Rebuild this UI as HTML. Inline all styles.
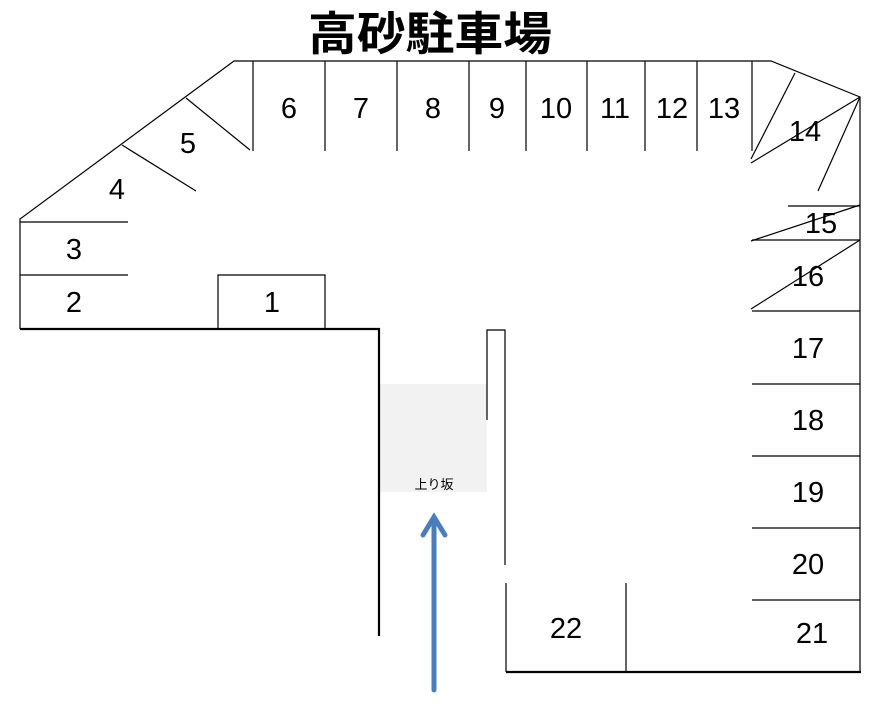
<!DOCTYPE html>
<html><head><meta charset="utf-8"><style>
body{margin:0;background:#fff;width:891px;height:705px;overflow:hidden}
svg text{font-family:"Liberation Sans","Noto Sans CJK JP",sans-serif}
</style></head><body>
<svg width="891" height="705" viewBox="0 0 891 705" xmlns="http://www.w3.org/2000/svg">
<text x="430" y="50" font-size="46" font-weight="bold" text-anchor="middle" font-family="'Noto Sans CJK JP',sans-serif" textLength="244" lengthAdjust="spacingAndGlyphs">高砂駐車場</text>
<rect x="379" y="384" width="108" height="108" fill="#f2f2f2"/>
<g stroke="#000" stroke-width="1.2" fill="none">
<polyline points="20,329 20,219 234,61 771,61 860,97 860,672"/>
<line x1="186" y1="98" x2="250" y2="150"/>
<line x1="122" y1="145" x2="196" y2="191"/>
<line x1="20" y1="222" x2="128" y2="222"/>
<line x1="20" y1="275" x2="128" y2="275"/>
<polyline points="218,329 218,275 325,275 325,329"/>
<line x1="253" y1="61" x2="253" y2="151"/>
<line x1="325" y1="61" x2="325" y2="151"/>
<line x1="397" y1="61" x2="397" y2="151"/>
<line x1="469" y1="61" x2="469" y2="151"/>
<line x1="526" y1="61" x2="526" y2="151"/>
<line x1="587" y1="61" x2="587" y2="151"/>
<line x1="645" y1="61" x2="645" y2="151"/>
<line x1="697" y1="61" x2="697" y2="151"/>
<line x1="752" y1="61" x2="752" y2="151"/>
<line x1="795" y1="73" x2="751" y2="159"/>
<line x1="860" y1="97" x2="751" y2="163"/>
<line x1="860" y1="97" x2="818" y2="191"/>
<line x1="788" y1="206" x2="860" y2="206"/>
<line x1="860" y1="205" x2="751" y2="241"/>
<line x1="752" y1="240" x2="860" y2="240"/>
<line x1="860" y1="240" x2="751" y2="309"/>
<line x1="752" y1="311" x2="860" y2="311"/>
<line x1="752" y1="384" x2="860" y2="384"/>
<line x1="752" y1="456" x2="860" y2="456"/>
<line x1="752" y1="528" x2="860" y2="528"/>
<line x1="752" y1="600" x2="860" y2="600"/>
<line x1="626" y1="583" x2="626" y2="672"/>
<polyline points="487,420 487,330 505,330 505,565"/>
<line x1="506" y1="583" x2="506" y2="672"/>
</g>
<g stroke="#000" stroke-width="2.2" fill="none">
<polyline points="20,329 379,329 379,636"/>
<line x1="506" y1="672" x2="861" y2="672"/>
</g>
<g stroke="#4a7ebb" stroke-width="5" fill="none" stroke-linecap="round">
<line x1="434" y1="690" x2="434" y2="518"/>
<polyline points="423,535 434,517 445,535"/>
</g>
<text x="434" y="489" font-size="13" text-anchor="middle">上り坂</text>
<g font-size="29" text-anchor="middle">
<text x="74" y="312">2</text><text x="74" y="259">3</text><text x="117" y="199">4</text><text x="188" y="153">5</text>
<text x="272" y="312">1</text>
<text x="289" y="118">6</text><text x="361" y="118">7</text><text x="433" y="118">8</text><text x="497" y="118">9</text>
<text x="556" y="118">10</text><text x="615" y="118">11</text><text x="672" y="118">12</text><text x="724" y="118">13</text>
<text x="805" y="141">14</text><text x="821" y="233">15</text><text x="808" y="286">16</text>
<text x="808" y="358">17</text><text x="808" y="430">18</text><text x="808" y="502">19</text><text x="808" y="574">20</text><text x="812" y="643">21</text>
<text x="566" y="638">22</text>
</g>
</svg>
</body></html>
